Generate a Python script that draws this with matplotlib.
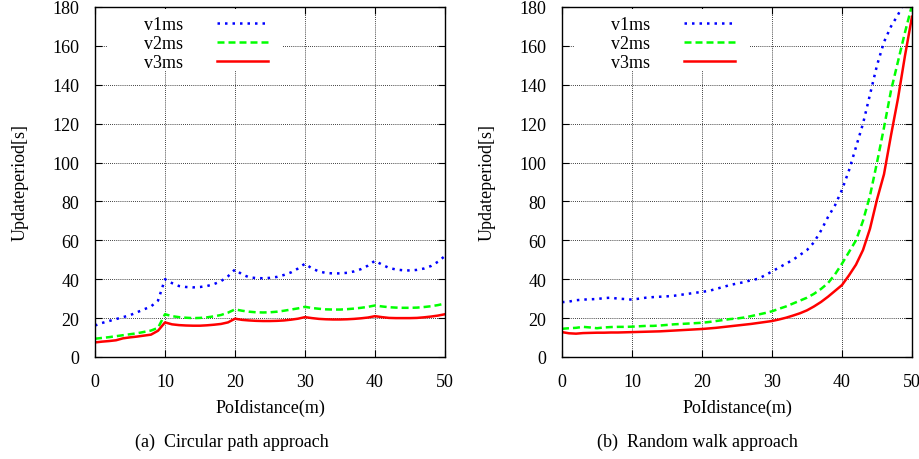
import matplotlib
matplotlib.use("Agg")
import matplotlib.pyplot as plt
from matplotlib.patches import Rectangle

plt.rcParams['font.family'] = ['Liberation Serif', 'DejaVu Serif']

# ---- data: (a) circular path approach ----
x_a = list(range(0, 51))
v1_a = [16.2, 17.5, 18.5, 19.5, 20.5, 21.5, 23, 24.5, 26, 29, 40, 38, 36.5, 36, 35.8, 36, 36.5, 37.5, 39, 41.5,
        45, 42.5, 41, 40.6, 40.5, 40.7, 41.2, 42.2, 43.5, 45.5, 48, 45.5, 44, 43.2, 43, 43, 43.3, 44, 45.2, 47,
        49.5, 47.5, 45.8, 45, 44.6, 44.5, 44.8, 45.5, 46.8, 49, 52]
v2_a = [9.4, 9.8, 10.2, 10.7, 11.2, 11.7, 12.2, 12.9, 13.6, 15, 22, 21, 20.5, 20.2, 20, 20.1, 20.4, 20.9, 21.6, 22.8,
        24.5, 23.8, 23.3, 23, 22.9, 23, 23.3, 23.8, 24.4, 25, 25.8, 25.2, 24.8, 24.5, 24.4, 24.4, 24.6, 24.9, 25.3, 25.8,
        26.5, 26, 25.6, 25.4, 25.3, 25.3, 25.4, 25.7, 26.1, 26.7, 27.5]
v3_a = [7.5, 7.9, 8.2, 8.6, 9.6, 10.1, 10.5, 11, 11.5, 13.5, 17.8, 16.8, 16.4, 16.2, 16.1, 16.1, 16.3, 16.6, 17, 17.8,
        19.7, 19.1, 18.8, 18.6, 18.5, 18.5, 18.6, 18.8, 19.2, 19.7, 20.5, 20, 19.6, 19.4, 19.3, 19.3, 19.4, 19.6, 19.9, 20.3,
        21, 20.5, 20.1, 20, 20, 20, 20.1, 20.4, 20.8, 21.3, 22]

# ---- data: (b) random walk approach ----
x_b = list(range(0, 51))
v1_b = [28.2, 28.5, 29.2, 29.5, 29.7, 29.8, 30.3, 30.5, 30, 29.8, 29.5, 30, 30.5, 30.8, 31, 31.2, 31.5, 32, 32.5, 33,
        33.5, 34, 35, 36, 37, 37.8, 38.5, 39.5, 40.2, 42, 44, 46, 48, 50, 52.5, 55, 59, 65, 72, 78,
        86, 96, 108, 120, 135, 150, 162, 170, 176, 183, 190]
v2_b = [14.5, 14.8, 15, 15.5, 15.2, 14.8, 15.2, 15.4, 15.5, 15.5, 15.6, 15.8, 16, 16, 16.2, 16.5, 16.8, 17, 17.2, 17.4,
        17.6, 18, 18.5, 19, 19.5, 19.8, 20.3, 21, 21.8, 22.6, 23.5, 24.8, 26, 27.5, 29, 30.5, 32.5, 35, 38, 42.5,
        48, 54, 60, 70, 83, 100, 118, 137, 152, 167, 181]
v3_b = [12.8, 12.2, 12, 12.3, 12.4, 12.5, 12.5, 12.6, 12.6, 12.7, 12.8, 12.9, 13, 13.1, 13.2, 13.4, 13.6, 13.8, 14, 14.2,
        14.4, 14.7, 15, 15.4, 15.8, 16.2, 16.6, 17, 17.5, 18, 18.5, 19.3, 20.2, 21.3, 22.5, 24, 26, 28.3, 31, 34,
        37, 42, 47.5, 55, 66, 81, 94, 114, 133, 155, 175]

labels = ["v1ms", "v2ms", "v3ms"]
xticks = [0, 10, 20, 30, 40, 50]
yticks = list(range(0, 181, 20))
xlabel = "PoIdistance(m)"
ylabel = "Updateperiod[s]"
captions = ["(a)  Circular path approach", "(b)  Random walk approach"]

FS = 13
fig = plt.figure(figsize=(9.2, 4.6), dpi=100)
ax1 = fig.add_axes([95/920, 1-358/460, 350/920, 350/460])
ax2 = fig.add_axes([562/920, 1-358/460, 350/920, 350/460])

styles = [dict(color='#0000ff', linestyle=(0, (1, 2.0)), lw=1.8),
          dict(color='#00ff00', linestyle=(0, (2.8, 1.6)), lw=1.8),
          dict(color='#ff0000', linestyle='-', lw=1.8)]

for ax, x, ys, cap, cx in [(ax1, x_a, [v1_a, v2_a, v3_a], captions[0], 232/920),
                           (ax2, x_b, [v1_b, v2_b, v3_b], captions[1], 697/920)]:
    for y, st, lab in zip(ys, styles, labels):
        ax.plot(x, y, label=lab, zorder=3, **st)
    ax.set_xlim(0, 50)
    ax.set_ylim(0, 180)
    ax.set_xticks(xticks)
    ax.set_yticks(yticks)
    ax.tick_params(direction='in', top=True, right=True, labelsize=FS, length=5, width=0.8, pad=11.5)
    ax.grid(True, color='black', linestyle=(0, (1, 1.5)), lw=0.6)
    ax.set_axisbelow(False)
    for s in ax.spines.values():
        s.set_linewidth(1.0)
        s.set_zorder(4)
    ax.set_xlabel(xlabel, fontsize=FS, labelpad=6.5)
    ax.set_ylabel(ylabel, fontsize=FS, labelpad=16.5)
    ax.add_patch(Rectangle((0.034, 0.82), 0.5, 0.175, transform=ax.transAxes,
                           facecolor='white', edgecolor='none', zorder=2.7))
    leg = ax.legend(loc='upper left', bbox_to_anchor=(0.1236, 0.9886), markerfirst=False, frameon=False,
                    fontsize=FS, handlelength=2.83, labelspacing=0.1, borderpad=0.3, handletextpad=1.9,
                    borderaxespad=0)
    leg.set_zorder(5)
    fig.text(cx, 1 - 442/460, cap, fontsize=FS, ha='center', va='center')

fig.savefig("out.png", dpi=100)
